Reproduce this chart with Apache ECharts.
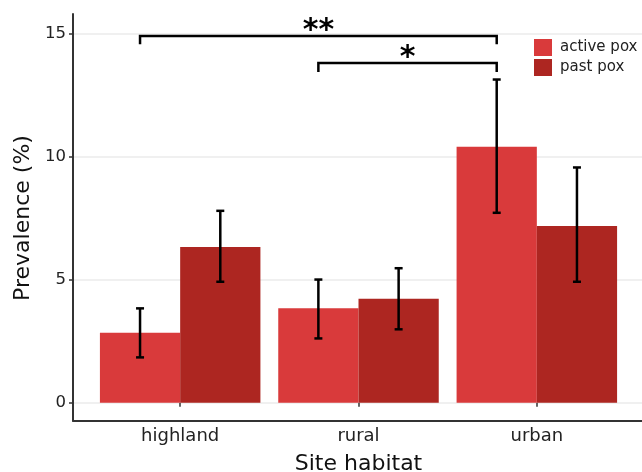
<!DOCTYPE html>
<html>
<head>
<meta charset="utf-8">
<script src="https://cdn.jsdelivr.net/npm/echarts@6/dist/echarts.min.js"></script>
<style>html,body{margin:0;padding:0;background:#fff}#c{width:642px;height:472px}</style>
</head>
<body>
<div id="c"></div>
<script>
const categories = ['highland', 'rural', 'urban'];
const seriesNames = ['active pox', 'past pox'];
const activePox = [2.84, 3.83, 10.39];
const pastPox = [6.32, 4.22, 7.17];
const activeLow = [1.84, 2.61, 7.71];
const activeHigh = [3.83, 5.00, 13.12];
const pastLow = [4.91, 2.98, 4.91];
const pastHigh = [7.79, 5.46, 9.55];
const yTicks = [0, 5, 10, 15];
const yMin = -0.73, yMax = 15.78;
// significance brackets: from category (active bar) to category (active bar)
const sigFrom = [0, 1];
const sigTo = [2, 2];
const sigLevel = [14.89, 13.79];
const sigDrop = [14.55, 13.43];
const sigText = ['**', '*'];

const colors = ['#D93A3B', '#AD2621'];
const FONT = 'DejaVu Sans';

const errData = [];
for (let i = 0; i < categories.length; i++) {
  errData.push([i, activeLow[i], activeHigh[i], -1]);
  errData.push([i, pastLow[i], pastHigh[i], 1]);
}
const sigData = sigFrom.map((f, i) => [f, sigTo[i], sigLevel[i], sigDrop[i], i]);

const chart = echarts.init(document.getElementById('c'), null, {renderer: 'canvas'});
chart.setOption({
  animation: false,
  backgroundColor: '#fff',
  textStyle: {fontFamily: FONT},
  grid: [
    {left: 73, top: 14, width: 571, height: 406.7, outerBoundsMode: 'none', containLabel: false},
    {left: 73, top: 33.3, width: 571, height: 369.4, outerBoundsMode: 'none', containLabel: false},
    {left: 91, top: 14, width: 535, height: 406.7, outerBoundsMode: 'none', containLabel: false}
  ],
  legend: {
    data: seriesNames,
    orient: 'vertical',
    left: 534, top: 39, padding: 0,
    itemWidth: 18, itemHeight: 17, itemGap: 3,
    icon: 'rect',
    textStyle: {fontFamily: FONT, fontSize: 15, color: '#222', padding: [0, 0, 0, 3]}
  },
  xAxis: [
    {gridIndex: 0, type: 'value', min: 0, max: 1,
     axisLine: {show: true, onZero: false, lineStyle: {color: '#333', width: 2}},
     axisTick: {show: false}, axisLabel: {show: false}, splitLine: {show: false},
     name: 'Site habitat', nameLocation: 'middle', nameGap: 33,
     nameTextStyle: {fontFamily: FONT, fontSize: 22, color: '#111'}},
    {gridIndex: 1, type: 'value', min: 0, max: 1, show: false},
    {gridIndex: 2, type: 'category', data: categories,
     axisLine: {show: false},
     axisTick: {show: true, alignWithLabel: true, length: 4, lineStyle: {color: '#333', width: 1.5}},
     axisLabel: {margin: 7, fontFamily: FONT, fontSize: 18, color: '#222'},
     splitLine: {show: false}}
  ],
  yAxis: [
    {gridIndex: 0, type: 'value', min: yMin, max: yMax,
     axisLine: {show: true, onZero: false, lineStyle: {color: '#333', width: 2}},
     axisTick: {show: false}, axisLabel: {show: false}, splitLine: {show: false}},
    {gridIndex: 1, type: 'value', min: yTicks[0], max: yTicks[yTicks.length - 1], interval: 5,
     axisLine: {show: false},
     axisTick: {show: true, length: 4, lineStyle: {color: '#333', width: 1.5}},
     axisLabel: {margin: 7, fontFamily: FONT, fontSize: 16.5, color: '#222'},
     splitLine: {show: true, lineStyle: {color: '#ebebeb', width: 1.5}},
     name: 'Prevalence (%)', nameLocation: 'middle', nameGap: 39, nameRotate: 90,
     nameTextStyle: {fontFamily: FONT, fontSize: 22, color: '#111'}},
    {gridIndex: 2, type: 'value', min: yMin, max: yMax, show: false}
  ],
  series: [
    {name: seriesNames[0], type: 'bar', xAxisIndex: 2, yAxisIndex: 2, data: activePox,
     barCategoryGap: '10%', barGap: '0%', itemStyle: {color: colors[0]}},
    {name: seriesNames[1], type: 'bar', xAxisIndex: 2, yAxisIndex: 2, data: pastPox,
     barCategoryGap: '10%', barGap: '0%', itemStyle: {color: colors[1]}},
    {type: 'custom', xAxisIndex: 2, yAxisIndex: 2, data: errData, z: 10,
     renderItem: function (params, api) {
       const lo = api.coord([api.value(0), api.value(1)]);
       const hi = api.coord([api.value(0), api.value(2)]);
       const band = api.size([1, 0])[0];
       const x = lo[0] + api.value(3) * band * 0.225;
       const s = {stroke: '#000', lineWidth: 2.5};
       return {type: 'group', children: [
         {type: 'line', shape: {x1: x, y1: lo[1], x2: x, y2: hi[1]}, style: s},
         {type: 'line', shape: {x1: x - 4, y1: lo[1], x2: x + 4, y2: lo[1]}, style: s},
         {type: 'line', shape: {x1: x - 4, y1: hi[1], x2: x + 4, y2: hi[1]}, style: s}
       ]};
     }},
    {type: 'custom', xAxisIndex: 2, yAxisIndex: 2, data: sigData, z: 10,
     renderItem: function (params, api) {
       const band = api.size([1, 0])[0];
       const off = -band * 0.225;
       const a = api.coord([api.value(0), api.value(2)]);
       const b = api.coord([api.value(1), api.value(2)]);
       const d = api.coord([api.value(0), api.value(3)]);
       const x1 = a[0] + off, x2 = b[0] + off, y = a[1], yd = d[1];
       return {type: 'group', children: [
         {type: 'polyline', shape: {points: [[x1, yd], [x1, y], [x2, y], [x2, yd]]}, style: {stroke: '#000', lineWidth: 2.5, fill: null}},
         {type: 'text', style: {text: sigText[api.value(4)], x: (x1 + x2) / 2, y: y + 10,
           align: 'center', verticalAlign: 'bottom', font: 'bold 30px "DejaVu Sans"', fill: '#000'}}
       ]};
     }}
  ]
});
</script>
</body>
</html>
